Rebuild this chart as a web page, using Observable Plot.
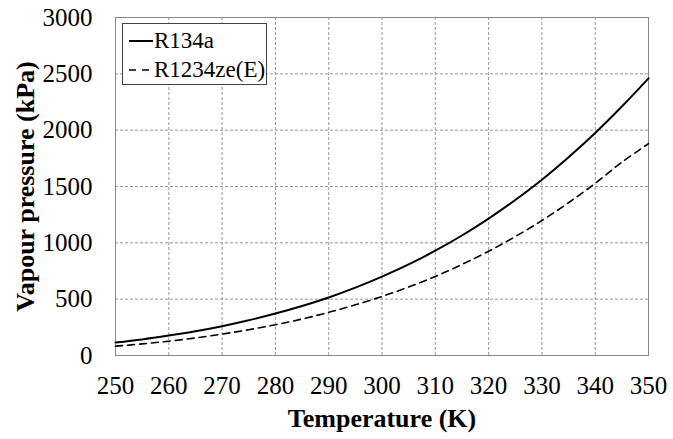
<!DOCTYPE html>
<html><head><meta charset="utf-8">
<script src="https://cdn.jsdelivr.net/npm/d3@7"></script>
<script src="https://cdn.jsdelivr.net/npm/@observablehq/plot@0.6"></script>
<style>
body{margin:0;background:#fff;}
#wrap{position:relative;width:673px;height:439px;font-family:"Liberation Serif","Times New Roman",serif;}
#legend{position:absolute;left:122px;top:23px;width:145px;height:62px;border:1px solid #444;background:#fff;font-size:23px;color:#000;box-sizing:border-box;}
#legend .row{position:absolute;left:6px;height:28px;display:flex;align-items:center;white-space:nowrap;}
#legend svg{margin-right:1px;}
</style></head><body>
<div id="wrap"></div>
<script>
const temperature = [250,255,260,265,270,275,280,285,290,295,300,305,310,315,320,325,330,335,340,345,350];
const r134a = [116,143,177,215,260,312,372,439,515,602,700,808,930,1065,1215,1380,1560,1760,1975,2210,2460];
const r1234ze = [83,103,127,156,190,229,273,324,383,450,524,608,702,808,925,1055,1198,1356,1528,1715,1880];
const seriesNames = ["R134a","R1234ze(E)"];
const xTicks = [250,260,270,280,290,300,310,320,330,340,350];
const yTicks = [0,500,1000,1500,2000,2500,3000];

const data = [];
temperature.forEach((t,i)=>{
  data.push({T:t,P:r134a[i],s:seriesNames[0]});
  data.push({T:t,P:r1234ze[i],s:seriesNames[1]});
});

const serif = "'Liberation Serif','Times New Roman',serif";
const chart = Plot.plot({
  width:673,height:439,
  marginLeft:115,marginRight:25,marginTop:17,marginBottom:84,
  style:{fontFamily:serif,fontSize:"25px",color:"#000",background:"#fff"},
  x:{domain:[250,350],ticks:xTicks},
  y:{domain:[0,3000],ticks:yTicks},
  marks:[
    Plot.gridX(xTicks,{stroke:"#999",strokeOpacity:1,strokeDasharray:"3,2"}),
    Plot.gridY(yTicks,{stroke:"#999",strokeOpacity:1,strokeDasharray:"3,2"}),
    Plot.frame({stroke:"#888"}),
    Plot.axisX(xTicks,{tickSize:0,tickPadding:21,fontSize:25,fontFamily:serif,label:null,tickFormat:d=>String(d)}),
    Plot.axisY(yTicks,{tickSize:0,tickPadding:23,fontSize:25,fontFamily:serif,label:null,tickFormat:d=>String(d)}),
    Plot.line(data.filter(d=>d.s===seriesNames[0]),{x:"T",y:"P",stroke:"#000",strokeWidth:2,curve:"catmull-rom"}),
    Plot.line(data.filter(d=>d.s===seriesNames[1]),{x:"T",y:"P",stroke:"#000",strokeWidth:1.6,strokeDasharray:"7,5",curve:"catmull-rom"}),
    Plot.text(["Temperature (K)"],{frameAnchor:"bottom",lineAnchor:"middle",textAnchor:"middle",dy:63,fontWeight:"bold",fontSize:26,fontFamily:serif}),
    Plot.text(["Vapour pressure (kPa)"],{frameAnchor:"left",lineAnchor:"middle",textAnchor:"middle",dx:-90,rotate:-90,fontWeight:"bold",fontSize:26,fontFamily:serif})
  ]
});
const wrap = document.getElementById("wrap");
wrap.appendChild(chart);

const legend = document.createElement("div");
legend.id="legend";
legend.innerHTML = `
<div class="row" style="top:3px"><svg width="24" height="4"><line x1="0" y1="2" x2="24" y2="2" stroke="#000" stroke-width="2"/></svg>${seriesNames[0]}</div>
<div class="row" style="top:32px"><svg width="24" height="4"><line x1="0" y1="2" x2="24" y2="2" stroke="#000" stroke-width="1.6" stroke-dasharray="7,6"/></svg>${seriesNames[1]}</div>`;
wrap.appendChild(legend);
</script>
</body></html>
